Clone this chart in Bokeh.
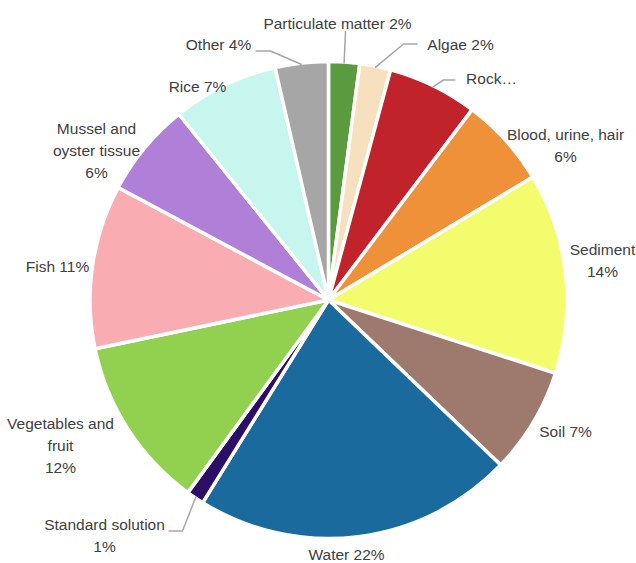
import math
from bokeh.plotting import figure
from bokeh.models import Range1d, ColumnDataSource
from bokeh.core.properties import value
from bokeh.embed import file_html
from bokeh.resources import INLINE

# ---- data (clockwise from 12 o'clock) ----
categories = ["Particulate matter", "Algae", "Rock", "Blood, urine, hair", "Sediment",
              "Soil", "Water", "Standard solution", "Vegetables and fruit", "Fish",
              "Mussel and oyster tissue", "Rice", "Other"]
shares = [2.1, 2.1, 6.1, 6.1, 13.6, 7.2, 21.7, 1.2, 11.7, 11.1, 6.4, 7.2, 3.6]
label_lines = [["Particulate matter 2%"], ["Algae 2%"], ["Rock\u2026"],
               ["Blood, urine, hair", "6%"], ["Sediment", "14%"], ["Soil 7%"],
               ["Water 22%"], ["Standard solution", "1%"], ["Vegetables and", "fruit", "12%"],
               ["Fish 11%"], ["Mussel and", "oyster tissue", "6%"], ["Rice 7%"], ["Other 4%"]]
colors = ["#5B9A3E", "#F6E0BE", "#C0242A", "#EF9139", "#F2FC6C", "#9E7A6E", "#1B6A9E",
          "#2B0F66", "#92D050", "#F9ADB3", "#B07FD7", "#C6F6EE", "#A6A6A6"]

# ---- layout (pixels relative to pie centre, y up) ----
R = 238.5
label_pos = [(9, 277), (132, 256), (163, 222), (237, 155), (274, 40), (237, -131),
             (18, -254), (-224, -235), (-268, -145), (-271, 34), (-232, 150),
             (-131, 214), (-110, 256)]
LINE_H = 22
# leader: (index, elbow, end)
leaders = {0: [(17, 269)], 1: [(75, 256), (89, 256)], 2: [(115, 220), (127, 220)],
           7: [(-146, -231), (-160, -231)], 12: [(-58, 249), (-73, 249)]}

W, H = 636, 563
CX, CY = 328, 299.5  # pie centre in page pixels
p = figure(width=W, height=H, x_range=Range1d(-CX, W - CX), y_range=Range1d(-(H - CY), CY),
           output_backend="svg", toolbar_location=None, min_border=0,
           x_axis_location=None, y_axis_location=None)
p.grid.visible = False
p.outline_line_color = None
p.background_fill_color = "white"

total = sum(shares)
starts, ends, mids = [], [], []
acc = 0.0
for s in shares:
    a0 = acc / total * 2 * math.pi
    acc += s
    a1 = acc / total * 2 * math.pi
    # compass (clockwise from top) -> math angles
    starts.append(math.pi / 2 - a1)
    ends.append(math.pi / 2 - a0)
    mids.append((a0 + a1) / 2)

src = ColumnDataSource(dict(start=starts, end=ends, color=colors, cat=categories))
p.wedge(x=0, y=0, radius=R, start_angle="start", end_angle="end", direction="anticlock",
        fill_color="color", line_color="white", line_width=3.5, source=src)

# leader lines
for i, pts in leaders.items():
    m = mids[i]
    xs = [(R - 1.5) * math.sin(m)] + [q[0] for q in pts]
    ys = [(R - 1.5) * math.cos(m)] + [q[1] for q in pts]
    p.line(xs, ys, line_color="#A6A6A6", line_width=1.5)

# labels
tx, ty, tt = [], [], []
for (lx, ly), lines in zip(label_pos, label_lines):
    n = len(lines)
    for k, t in enumerate(lines):
        tx.append(lx)
        ty.append(ly + ((n - 1) / 2 - k) * LINE_H)
        tt.append(t)
p.text(x=tx, y=ty, text=tt, text_font=value("Liberation Sans"), text_font_size="15.5px",
       text_color="#404040", text_align="center", text_baseline="middle")

open("out.html", "w").write(file_html(p, INLINE))
